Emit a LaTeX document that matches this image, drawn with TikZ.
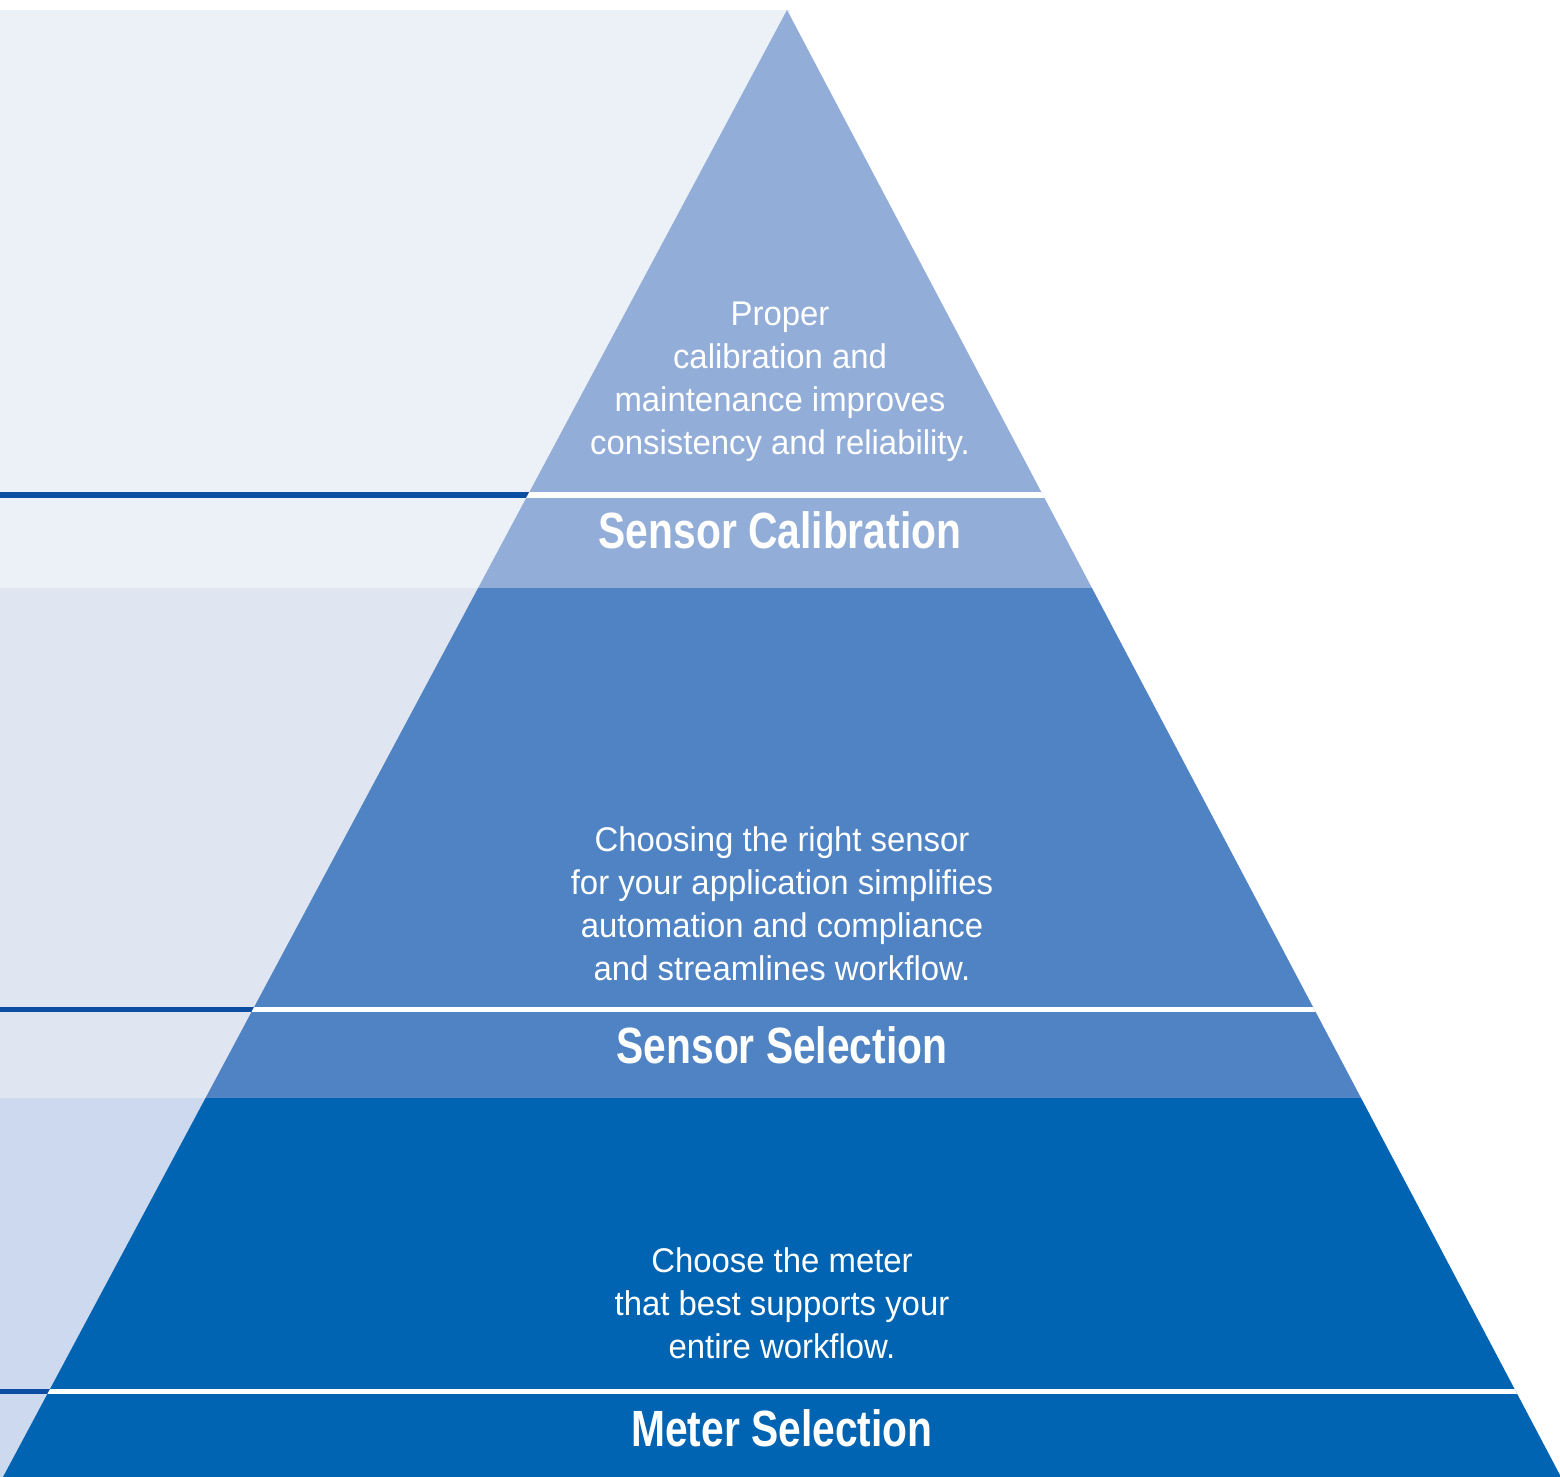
\documentclass[tikz,border=0pt]{standalone}
\usepackage{fontspec}
\setmainfont{Liberation Sans}
\newfontfamily\bodyfont{Liberation Sans}[FakeStretch=0.96]
\newfontfamily\headfont{Liberation Sans}[FakeStretch=0.80]

\definecolor{bandtop}{HTML}{ECF1F8}
\definecolor{bandmid}{HTML}{DFE6F2}
\definecolor{bandlow}{HTML}{CDD9EE}
\definecolor{tiertop}{HTML}{92ADD8}
\definecolor{tiermid}{HTML}{4F83C3}
\definecolor{tierlow}{HTML}{0064B2}
\definecolor{ruleblue}{HTML}{0B4EA2}

\begin{document}
\begin{tikzpicture}[
	desc/.style={text=white, align=center, font=\bodyfont\fontsize{19.5}{24.4}\selectfont},
	tiername/.style={text=white, font=\headfont\bfseries\fontsize{29}{31}\selectfont}
	]
	\useasboundingbox (0,0) rectangle (31.2,29.54);
	
	% background bands
	\fill[bandtop] (0,17.78) rectangle (15.8,29.34);
	\fill[bandmid] (0,7.58) rectangle (15.8,17.78);
	\fill[bandlow] (0,0) rectangle (15.8,7.58);
	
	% dark rules
	\fill[ruleblue] (0,19.58) rectangle (15.8,19.69);
	\fill[ruleblue] (0,9.29) rectangle (15.8,9.40);
	\fill[ruleblue] (0,1.65) rectangle (15.8,1.76);
	
	% pyramid
	\begin{scope}
		\clip (0.06,0) -- (15.74,29.34) -- (31.22,0) -- cycle;
		\fill[tiertop] (0,17.78) rectangle (31.2,29.4);
		\fill[tiermid] (0,7.58) rectangle (31.2,17.78);
		\fill[tierlow] (0,0) rectangle (31.2,7.58);
		% white separators
		\fill[white] (0,19.58) rectangle (31.2,19.69);
		\fill[white] (0,9.29) rectangle (31.2,9.40);
		\fill[white] (0,1.65) rectangle (31.2,1.76);
	\end{scope}
	
	% texts
	\node[desc] (calibtext) at (15.6,21.9) {Proper\\calibration and\\maintenance improves\\consistency and reliability.};
	\node[tiername] (calib) at (15.6,18.94) {Sensor Calibration};
	
	\node[desc] (sensortext) at (15.64,11.46) {Choosing the right sensor\\for your application simplifies\\automation and compliance\\and streamlines workflow.};
	\node[tiername] (sensor) at (15.64,8.64) {Sensor Selection};
	
	\node[desc] (metertext) at (15.64,3.48) {Choose the meter\\that best supports your\\entire workflow.};
	\node[tiername] (meter) at (15.64,0.98) {Meter Selection};
	
\end{tikzpicture}
\end{document}
